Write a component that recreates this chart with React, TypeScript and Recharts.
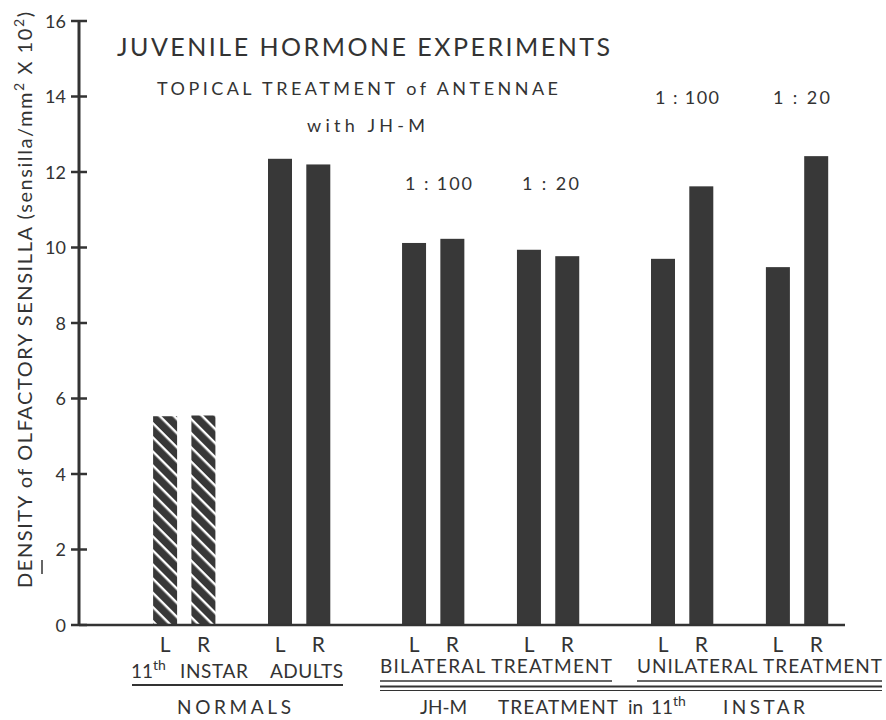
import { BarChart, Bar, XAxis, YAxis } from 'recharts';

// density of olfactory sensilla (sensilla/mm2 x 10^2), one bar per antenna
const antennaSides = ['L', 'R', 'L', 'R', 'L', 'R', 'L', 'R', 'L', 'R', 'L', 'R'];
const densityValues = [5.53, 5.55, 12.35, 12.2, 10.12, 10.23, 9.94, 9.77, 9.7, 11.62, 9.48, 12.42];
const barGroups = [
  '11th instar', '11th instar', 'adults', 'adults',
  'bilateral 1:100', 'bilateral 1:100', 'bilateral 1:20', 'bilateral 1:20',
  'unilateral 1:100', 'unilateral 1:100', 'unilateral 1:20', 'unilateral 1:20',
];
const yTicks = [0, 2, 4, 6, 8, 10, 12, 14, 16];

// empty half-slots in front of each bar, to get the paired spacing of the figure
const GAPS_BEFORE = [4, 1, 3, 1, 4, 1, 3, 1, 4, 1, 3, 1];
const GAPS_AFTER = 1;

type Row = { key: string; label: string; value: number | null; hatched: boolean };

const chartData: Row[] = [];
let gapId = 0;
const pushGaps = (n: number) => {
  for (let i = 0; i < n; i++) chartData.push({ key: `gap-${gapId++}`, label: '', value: null, hatched: false });
};
antennaSides.forEach((side, i) => {
  pushGaps(GAPS_BEFORE[i]);
  chartData.push({
    key: `bar-${i}`,
    label: side,
    value: densityValues[i],
    hatched: barGroups[i] === '11th instar',
  });
});
pushGaps(GAPS_AFTER);

const INK = '#333';
const BAR = '#383838';
const FONT = 'Lato, "Noto Sans", sans-serif';
const BAR_W = 24;

// eslint-disable-next-line @typescript-eslint/no-explicit-any
const BarShape = (p: any) => {
  if (p.payload?.value == null) return <g />;
  const cx = p.x + p.width / 2;
  return (
    <rect
      x={cx - BAR_W / 2}
      y={p.y}
      width={BAR_W}
      height={p.height}
      fill={p.payload.hatched ? 'url(#hatch)' : BAR}
    />
  );
};

// eslint-disable-next-line @typescript-eslint/no-explicit-any
const YTick = ({ y, payload }: any) => (
  <g>
    <line x1={71} x2={87} y1={y} y2={y} stroke={INK} strokeWidth={2.5} />
    <text x={66} y={y} dy={6.5} textAnchor="end" fontSize={18} fill={INK} fontFamily={FONT}>
      {payload.value}
    </text>
  </g>
);

// eslint-disable-next-line @typescript-eslint/no-explicit-any
const XTick = ({ x, payload, index }: any) => {
  const row = chartData[index ?? payload.index];
  if (!row || !row.label) return <g />;
  return (
    <text x={x} y={652} textAnchor="middle" fontSize={21} fill={INK} fontFamily={FONT}>
      {row.label}
    </text>
  );
};

const Overlay = () => (
  <svg
    width={886}
    height={720}
    style={{ position: 'absolute', left: 0, top: 0, pointerEvents: 'none' }}
    fontFamily={FONT}
    fill={INK}
  >
    {/* titles */}
    <text x={117} y={56} fontSize={25} textLength={493} lengthAdjust="spacing">
      JUVENILE HORMONE EXPERIMENTS
    </text>
    <text x={157} y={95} fontSize={18} textLength={401} lengthAdjust="spacing">
      TOPICAL TREATMENT of ANTENNAE
    </text>
    <text x={307} y={132} fontSize={18} textLength={118} lengthAdjust="spacing">
      with JH-M
    </text>

    {/* dilution labels */}
    <text x={405} y={190} fontSize={18} textLength={67} lengthAdjust="spacing">1 : 100</text>
    <text x={522} y={190} fontSize={18} textLength={57} lengthAdjust="spacing">1 : 20</text>
    <text x={655} y={104} fontSize={18} textLength={64} lengthAdjust="spacing">1 : 100</text>
    <text x={773} y={104} fontSize={18} textLength={57} lengthAdjust="spacing">1 : 20</text>

    {/* y axis title */}
    <g transform="translate(32, 588) rotate(-90)">
      <text x={0} y={0} fontSize={20} textLength={576} lengthAdjust="spacing">
        DENSITY of OLFACTORY SENSILLA (sensilla/mm
        <tspan dy={-8} fontSize={14}>2</tspan>
        <tspan dy={8}> X 10</tspan>
        <tspan dy={-8} fontSize={14}>2</tspan>
        <tspan dy={8}>)</tspan>
      </text>
    </g>
    <line x1={42} x2={42} y1={560} y2={574} stroke={INK} strokeWidth={1.5} />

    {/* normals */}
    <text x={131} y={678} fontSize={19}>
      11<tspan dy={-8} fontSize={14}>th</tspan>
    </text>
    <text x={180} y={678} fontSize={19} textLength={68} lengthAdjust="spacing">INSTAR</text>
    <text x={270} y={678} fontSize={19} textLength={73} lengthAdjust="spacing">ADULTS</text>
    <line x1={132} x2={343} y1={685} y2={685} stroke={INK} strokeWidth={2} />
    <text x={177} y={714} fontSize={19} textLength={114} lengthAdjust="spacing">NORMALS</text>

    {/* JH-M treated */}
    <text x={380} y={673} fontSize={19} textLength={232} lengthAdjust="spacing">BILATERAL TREATMENT</text>
    <text x={637} y={673} fontSize={19} textLength={245} lengthAdjust="spacing">UNILATERAL TREATMENT</text>
    <line x1={380} x2={612} y1={681} y2={681} stroke={INK} strokeWidth={1.5} />
    <line x1={637} x2={882} y1={681} y2={681} stroke={INK} strokeWidth={1.5} />
    <line x1={380} x2={882} y1={686.5} y2={686.5} stroke={INK} strokeWidth={2} />
    <line x1={380} x2={882} y1={690.5} y2={690.5} stroke={INK} strokeWidth={1} />
    <text x={420} y={714} fontSize={19}>JH-M</text>
    <text x={498} y={714} fontSize={19} textLength={120} lengthAdjust="spacing">TREATMENT</text>
    <text x={628} y={714} fontSize={19}>in</text>
    <text x={651} y={714} fontSize={19}>
      11<tspan dy={-8} fontSize={14}>th</tspan>
    </text>
    <text x={723} y={714} fontSize={19} textLength={82} lengthAdjust="spacing">INSTAR</text>
  </svg>
);

export default function App() {
  return (
    <div style={{ position: 'absolute', left: 0, top: 0, width: 886, height: 720, background: '#fff' }}>
      <BarChart
        width={886}
        height={720}
        data={chartData}
        margin={{ top: 21, right: 41, bottom: 0, left: 0 }}
        barCategoryGap={0}
        barGap={0}
      >
        <defs>
          <pattern id="hatch" patternUnits="userSpaceOnUse" width={10} height={10} patternTransform="rotate(45)">
            <rect width={10} height={10} fill={BAR} />
            <rect width={10} height={2.4} fill="#fff" />
          </pattern>
        </defs>
        <XAxis
          dataKey="key"
          type="category"
          interval={0}
          height={95}
          tickLine={false}
          axisLine={{ stroke: INK, strokeWidth: 2.5 }}
          tick={XTick}
        />
        <YAxis
          type="number"
          domain={[0, 16]}
          ticks={yTicks}
          width={79}
          tickLine={false}
          axisLine={{ stroke: INK, strokeWidth: 3 }}
          tick={YTick}
        />
        <Bar dataKey="value" isAnimationActive={false} shape={BarShape} />
      </BarChart>
      <Overlay />
    </div>
  );
}
